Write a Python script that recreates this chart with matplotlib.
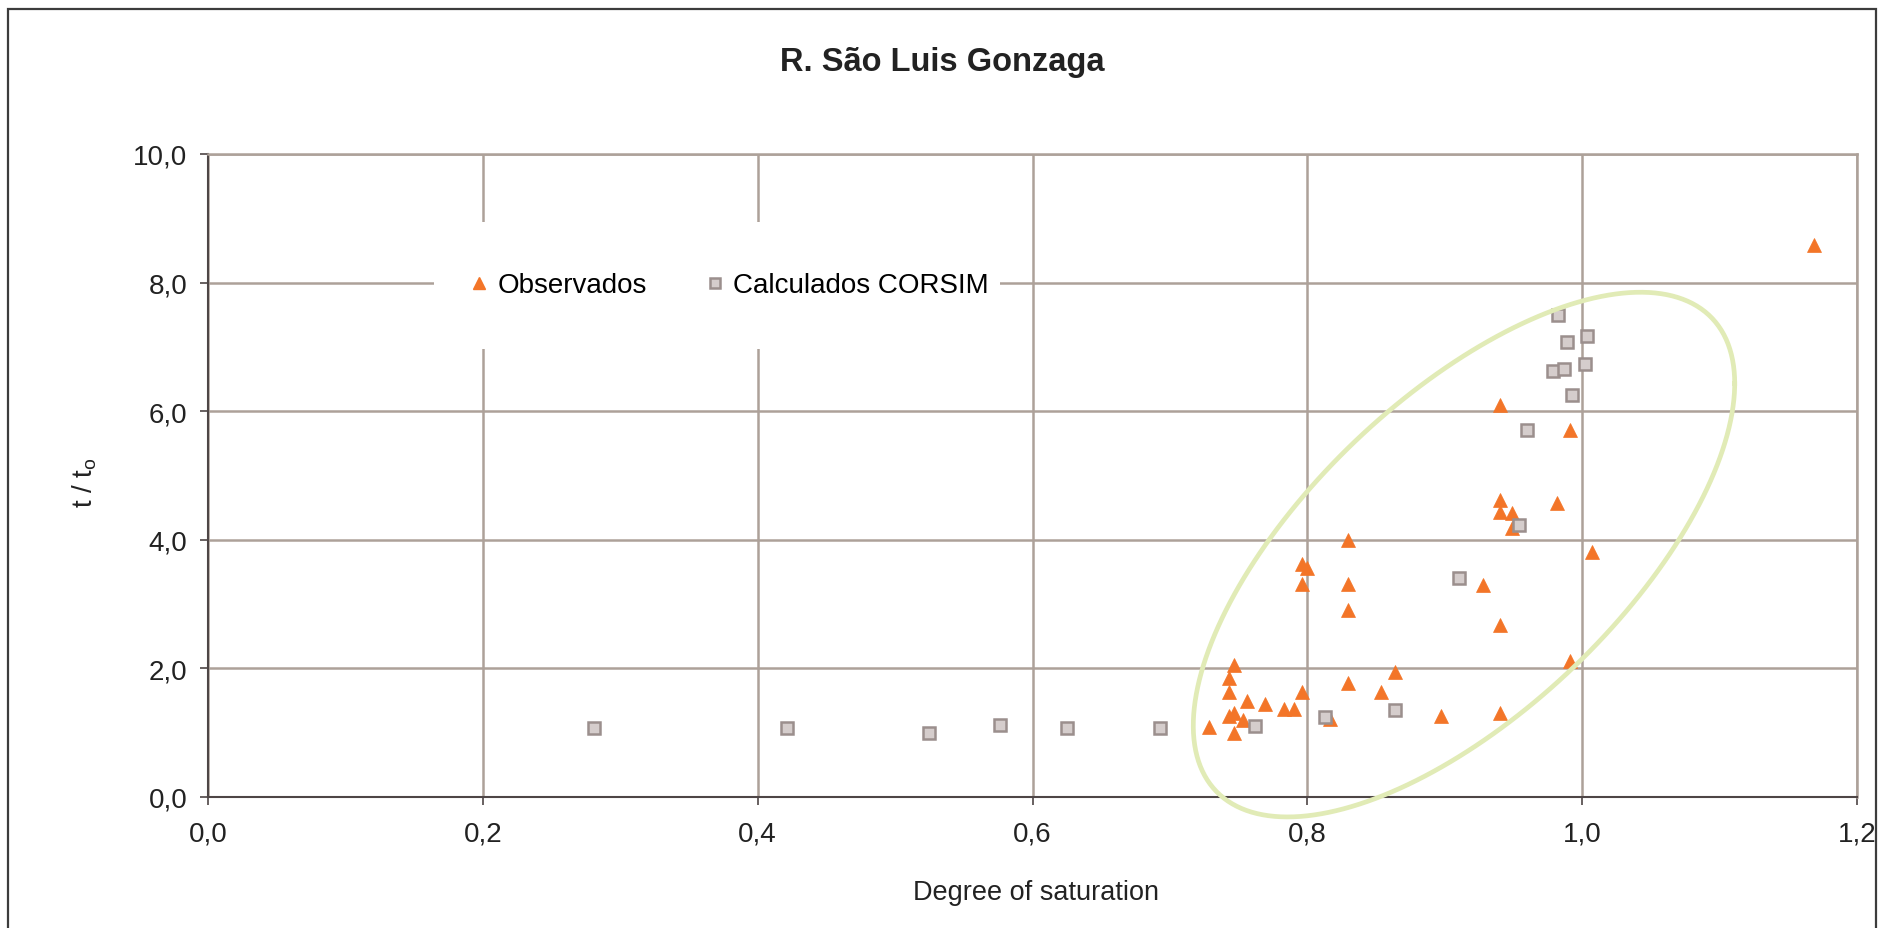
import numpy as np
import matplotlib
matplotlib.use("Agg")
import matplotlib.pyplot as plt
from matplotlib.lines import Line2D
from matplotlib.patches import Rectangle

plt.rcParams['font.family'] = ['Liberation Sans', 'DejaVu Sans']

# observed travel-time ratio vs degree of saturation
obs_x = [0.796, 0.7996, 0.796, 0.8297, 0.8297, 0.9275, 0.940, 0.9915, 0.7467, 0.7433,
         0.7433, 0.756, 0.769, 0.783, 0.790, 0.796, 0.8297, 0.8537, 0.8637, 0.8974,
         0.940, 0.7288, 0.7433, 0.7467, 0.753, 0.7467, 0.8168, 0.940, 0.9915, 0.940,
         0.982, 0.940, 0.9486, 0.9486, 0.8297, 1.0075, 1.169]
obs_y = [3.62, 3.56, 3.32, 3.32, 2.91, 3.29, 2.67, 2.12, 2.05, 1.85,
         1.64, 1.50, 1.44, 1.37, 1.37, 1.64, 1.78, 1.64, 1.95, 1.26,
         1.31, 1.09, 1.26, 1.31, 1.20, 1.00, 1.22, 6.09, 5.71, 4.62,
         4.58, 4.44, 4.41, 4.18, 4.00, 3.81, 8.59]

# CORSIM results
sim_x = [0.281, 0.421, 0.525, 0.576, 0.625, 0.693, 0.762, 0.813, 0.864, 0.9107,
         0.9537, 0.960, 0.9925, 0.979, 0.987, 1.0019, 0.9825, 0.989, 1.0036]
sim_y = [1.08, 1.08, 1.00, 1.12, 1.08, 1.08, 1.11, 1.25, 1.36, 3.41,
         4.23, 5.70, 6.25, 6.63, 6.66, 6.73, 7.49, 7.07, 7.17]

xticks = [0.0, 0.2, 0.4, 0.6, 0.8, 1.0, 1.2]
xticklabels = ["0,0", "0,2", "0,4", "0,6", "0,8", "1,0", "1,2"]
yticks = [0, 2, 4, 6, 8, 10]
yticklabels = ["0,0", "2,0", "4,0", "6,0", "8,0", "10,0"]

# highlight ring around the congested points
ring_cx, ring_cy = 0.914, 3.77
ring_ax, ring_ay = 0.197, 4.08
ring_phase = np.radians(49.3)

grid_c = "#ada199"
axis_c = "#4e4646"
orange = "#f37528"

fig = plt.figure(figsize=(18.78, 9.29), dpi=100)
ax = fig.add_axes([208/1878, 1 - 798/929, (1857-208)/1878, (798-155)/929])

ax.set_xlim(0, 1.2)
ax.set_ylim(0, 10)
ax.set_xticks(xticks)
ax.set_xticklabels(xticklabels)
ax.set_yticks(yticks)
ax.set_yticklabels(yticklabels)
ax.tick_params(axis='both', labelsize=20, colors=axis_c, labelcolor="#222222",
               length=6, width=1.2, direction='out')
ax.tick_params(axis='x', pad=11)
ax.tick_params(axis='y', pad=9)

ax.grid(True, color=grid_c, linewidth=1.8, zorder=0)
ax.set_axisbelow(True)
for s in ['top', 'right']:
    ax.spines[s].set_color(grid_c)
    ax.spines[s].set_linewidth(1.8)
for s in ['left', 'bottom']:
    ax.spines[s].set_color(axis_c)
    ax.spines[s].set_linewidth(1.5)

# white panel behind the legend
ax.add_patch(Rectangle((0.137, 0.697), 0.343, 0.197, transform=ax.transAxes,
                       facecolor='white', edgecolor='none', zorder=1.5))

ax.plot(obs_x, obs_y, linestyle='none', marker='^', markersize=9.5,
        color=orange, markeredgecolor=orange, markeredgewidth=0.5, zorder=3)
ax.plot(sim_x, sim_y, linestyle='none', marker='s', markersize=9,
        markerfacecolor="#d5cdcc", markeredgecolor="#9b8f8d", markeredgewidth=1.8,
        zorder=3)

t = np.linspace(0, 2*np.pi, 400)
ax.plot(ring_cx + ring_ax*np.cos(t), ring_cy + ring_ay*np.cos(t - ring_phase),
        color="#e1ebb6", linewidth=3.4, clip_on=False, zorder=4)

handles = [
    Line2D([], [], linestyle='none', marker='^', markersize=8, color=orange),
    Line2D([], [], linestyle='none', marker='s', markersize=7.5,
           markerfacecolor="#d5cdcc", markeredgecolor="#9b8f8d", markeredgewidth=1.8),
]
ax.legend(handles, ["Observados", "Calculados CORSIM"], loc='center',
          bbox_to_anchor=(0.3165, 0.7955), ncol=2, frameon=False, fontsize=20,
          handlelength=0.6, handletextpad=0.35, columnspacing=2.15)

fig.text(0.5015, 1 - 71/929, "R. São Luis Gonzaga", ha='center', va='baseline',
         fontsize=23.5, fontweight='bold', color="#222222")
fig.text(0.5515, 1 - 900/929, "Degree of saturation", ha='center', va='baseline',
         fontsize=19.5, color="#222222")
fig.text(85/1878, 1 - 483/929, "t / t$_\\mathregular{o}$", ha='center', va='center',
         rotation=90, fontsize=20, color="#222222")

# chart frame
fig.patches.append(Rectangle((8/1878, -0.1), (1876-8)/1878, 1.1 - 10/929,
                             transform=fig.transFigure, facecolor='none',
                             edgecolor="#3c3c3c", linewidth=1.6))

fig.savefig("out.png", dpi=100)
